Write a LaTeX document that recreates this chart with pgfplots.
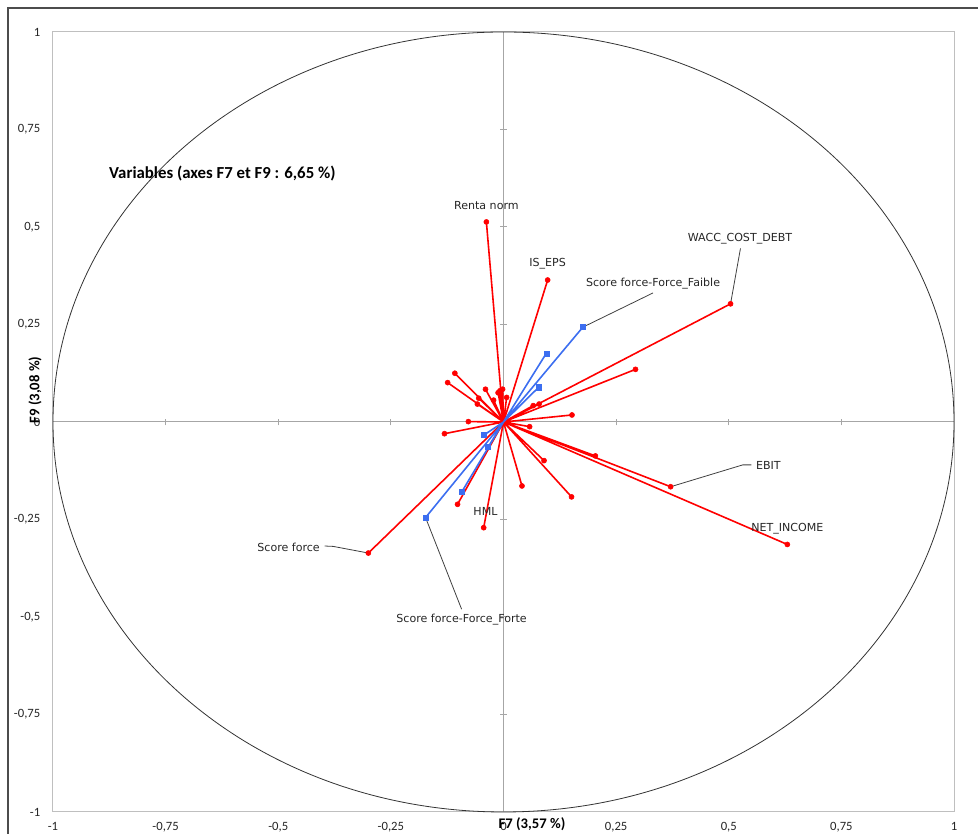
\documentclass[border=0pt]{standalone}
\usepackage{fontspec}
\setmainfont{Carlito}
\newfontfamily\labfont{DejaVu Sans}
\usepackage{pgfplots}
\pgfplotsset{compat=1.18}
\definecolor{vred}{RGB}{255,0,0}
\definecolor{vblue}{RGB}{60,110,240}
\definecolor{axgray}{RGB}{166,166,166}
\definecolor{bordergray}{RGB}{191,191,191}
\definecolor{leader}{RGB}{64,64,64}
\begin{document}
\begin{tikzpicture}
\path[use as bounding box] (-39.75pt,-16.5pt) rectangle (693.75pt,609pt);
\draw[color=black!70, line width=0.9pt] (-33.75pt,-20pt) -- (-33.75pt,603pt) -- (700pt,603pt);
\begin{axis}[
  at={(0,0)}, anchor=south west,
  scale only axis, width=675.75pt, height=585pt,
  xmin=-1, xmax=1, ymin=-1, ymax=1,
  axis line style={draw=bordergray, line width=0.75pt},
  xtick={-1,-0.75,-0.5,-0.25,0,0.25,0.5,0.75,1},
  ytick={-1,-0.75,-0.5,-0.25,0,0.25,0.5,0.75,1},
  xticklabels={-1,{-0,75},{-0,5},{-0,25},0,{0,25},{0,5},{0,75},1},
  yticklabels={-1,{-0,75},{-0,5},{-0,25},0,{0,25},{0,5},{0,75},1},
  major tick length=0pt,
  tick label style={font=\fontsize{9.5}{10}\selectfont, text=black!85},
  xticklabel style={yshift=-4pt},
  yticklabel style={xshift=-6pt},
  clip=false,
]
% axis lines through origin
\draw[axgray, line width=0.75pt] (axis cs:-1,0) -- (axis cs:1,0);
\draw[axgray, line width=0.75pt] (axis cs:0,-1) -- (axis cs:0,1);
\pgfplotsinvokeforeach{-0.75,-0.5,-0.25,0.25,0.5,0.75}{
  \draw[axgray, line width=0.75pt] ([yshift=-2.6pt]axis cs:#1,0) -- ([yshift=2.6pt]axis cs:#1,0);
  \draw[axgray, line width=0.75pt] ([xshift=-2.6pt]axis cs:0,#1) -- ([xshift=2.6pt]axis cs:0,#1);
}
% correlation circle
\draw[black!80, line width=0.6pt] (axis cs:0,0) ellipse [x radius=1, y radius=1];

% red variables
\addplot[vred, line width=1.2pt, no markers, line join=round] coordinates {
(0,0) (-0.038,0.513) (0,0) (0.098,0.364) (0,0) (0.504,0.303) (0,0) (0.293,0.135)
(0,0) (0.152,0.018) (0,0) (0.066,0.042) (0,0) (0.079,0.046) (0,0) (0.058,-0.012)
(0,0) (0.204,-0.087) (0,0) (0.371,-0.166) (0,0) (0.630,-0.314) (0,0) (0.090,-0.099)
(0,0) (0.151,-0.192) (0,0) (0.041,-0.164) (0,0) (-0.044,-0.271) (0,0) (-0.102,-0.211)
(0,0) (-0.300,-0.336) (0,0) (-0.131,-0.030) (0,0) (-0.078,0.001) (0,0) (-0.108,0.125)
(0,0) (-0.124,0.101) (0,0) (-0.040,0.084) (0,0) (-0.055,0.061) (0,0) (-0.058,0.046)
(0,0) (-0.022,0.056) (0,0) (-0.012,0.075) (0,0) (-0.002,0.084) (0,0) (0.007,0.063)
(0,0) (-0.008,0.080) (0,0)
};
\addplot[only marks, mark=*, mark size=1.9pt, color=vred, fill=vred] coordinates {
(-0.038,0.513) (0.098,0.364) (0.504,0.303) (0.293,0.135)
(0.152,0.018) (0.066,0.042) (0.079,0.046) (0.058,-0.012)
(0.204,-0.087) (0.371,-0.166) (0.630,-0.314) (0.090,-0.099)
(0.151,-0.192) (0.041,-0.164) (-0.044,-0.271) (-0.102,-0.211)
(-0.300,-0.336) (-0.131,-0.030) (-0.078,0.001) (-0.108,0.125)
(-0.124,0.101) (-0.040,0.084) (-0.055,0.061) (-0.058,0.046)
(-0.022,0.056) (-0.012,0.075) (-0.002,0.084) (0.007,0.063)
(-0.008,0.080)
};
% blue variables
\addplot[vblue, line width=1.2pt, no markers, line join=round] coordinates {
(0,0) (0.176,0.243) (0,0) (0.095,0.176) (0,0) (0.078,0.089) (0,0) (-0.043,-0.033)
(0,0) (-0.034,-0.064) (0,0) (-0.092,-0.178) (0,0) (-0.173,-0.245) (0,0)
};
\addplot[only marks, mark=square*, mark size=1.9pt, color=vblue, fill=vblue] coordinates {
(0.176,0.243) (0.095,0.176) (0.078,0.089) (-0.043,-0.033)
(-0.034,-0.064) (-0.092,-0.178) (-0.173,-0.245)
};

% leader lines
\draw[leader, line width=0.6pt] (axis cs:0.176,0.243) -- (axis cs:0.332,0.331);
\draw[leader, line width=0.6pt] (axis cs:0.504,0.303) -- (axis cs:0.526,0.445);
\draw[leader, line width=0.6pt] (axis cs:0.371,-0.166) -- (axis cs:0.531,-0.110) -- (axis cs:0.550,-0.110);
\draw[leader, line width=0.6pt] (axis cs:-0.300,-0.336) -- (axis cs:-0.378,-0.319) -- (axis cs:-0.397,-0.318);
\draw[leader, line width=0.6pt] (axis cs:-0.173,-0.245) -- (axis cs:-0.093,-0.480);

% data labels
\begin{scope}[every node/.style={font=\labfont\fontsize{8.3}{9}\selectfont, text=black!85, inner sep=0pt}]
\node at (axis cs:-0.038,0.554) {Renta norm};
\node at (axis cs:0.098,0.405) {IS\_EPS};
\node at (axis cs:0.332,0.356) {Score force-Force\_Faible};
\node at (axis cs:0.525,0.471) {WACC\_COST\_DEBT};
\node at (axis cs:0.588,-0.112) {EBIT};
\node at (axis cs:0.630,-0.274) {NET\_INCOME};
\node at (axis cs:-0.477,-0.321) {Score force};
\node at (axis cs:-0.093,-0.506) {Score force-Force\_Forte};
\node at (axis cs:-0.040,-0.230) {HML};
\end{scope}

% title and axis titles
\node[font=\bfseries\fontsize{12.6}{14}\selectfont, inner sep=0pt] at (axis cs:-0.624,0.638) {Variables (axes F7 et F9 : 6,65 \%)};
\node[font=\bfseries\fontsize{11}{12}\selectfont, inner sep=0pt] at ([yshift=-9pt]rel axis cs:0.5316,0) {F7 (3,57 \%)};
\node[font=\bfseries\fontsize{11}{12}\selectfont, inner sep=0pt, rotate=90] at ([xshift=-13.5pt]rel axis cs:0,0.541) {F9 (3,08 \%)};
\end{axis}
\end{tikzpicture}
\end{document}
